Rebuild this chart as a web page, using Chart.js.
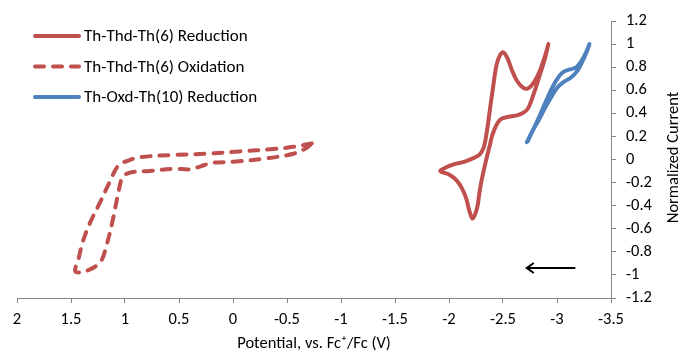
<!DOCTYPE html>
<html>
<head>
<meta charset="utf-8">
<script src="https://cdn.jsdelivr.net/npm/chart.js"></script>
<style>
  html, body { margin: 0; padding: 0; background: #fff; }
  #wrap { width: 681px; height: 352px; }
</style>
</head>
<body>
<div id="wrap"><canvas id="cv" width="681" height="352"></canvas></div>
<script>
// Th-Thd-Th(6) reduction CV (potential in V, normalized current)
const red6X = [-2.92, -2.89, -2.85, -2.80, -2.74, -2.69, -2.63, -2.58, -2.54, -2.50, -2.47, -2.44, -2.41, -2.38, -2.35, -2.32, -2.28, -2.22, -2.14, -2.05, -1.97, -1.92,
               -2.00, -2.07, -2.12, -2.16, -2.19, -2.22, -2.26, -2.28, -2.30, -2.33, -2.35, -2.38, -2.40, -2.44, -2.48, -2.55, -2.62, -2.68, -2.73, -2.77, -2.81, -2.85, -2.89, -2.92];
const red6Y = [1.00, 0.90, 0.79, 0.69, 0.62, 0.62, 0.68, 0.78, 0.88, 0.93, 0.90, 0.82, 0.64, 0.44, 0.24, 0.10, 0.04, 0.01, -0.02, -0.04, -0.07, -0.10,
               -0.13, -0.18, -0.25, -0.34, -0.45, -0.51, -0.42, -0.30, -0.19, -0.06, 0.02, 0.13, 0.21, 0.30, 0.35, 0.37, 0.38, 0.40, 0.44, 0.53, 0.64, 0.76, 0.88, 1.00];

// Th-Thd-Th(6) oxidation CV
const ox6X = [-0.73, -0.56, -0.37, -0.06, 0.24, 0.55, 0.86, 0.97, 1.06, 1.14, 1.23, 1.32, 1.39, 1.43, 1.46,
              1.37, 1.23, 1.17, 1.11, 1.06, 1.02, 0.94, 0.77, 0.55, 0.40, 0.30, 0.20, 0.0, -0.31, -0.56, -0.68, -0.73];
const ox6Y = [0.14, 0.11, 0.09, 0.07, 0.05, 0.04, 0.02, -0.01, -0.05, -0.19, -0.37, -0.54, -0.71, -0.86, -0.97,
              -0.97, -0.89, -0.74, -0.51, -0.28, -0.15, -0.11, -0.10, -0.08, -0.085, -0.06, -0.03, -0.02, 0.01, 0.05, 0.10, 0.14];

// Th-Oxd-Th(10) reduction CV
const red10X = [-2.72, -2.78, -2.84, -2.90, -2.96, -3.01, -3.06, -3.12, -3.18, -3.23, -3.27, -3.30,
                -3.27, -3.23, -3.19, -3.13, -3.06, -3.00, -2.94, -2.88, -2.83, -2.77, -2.73];
const red10Y = [0.15, 0.26, 0.38, 0.51, 0.63, 0.71, 0.76, 0.78, 0.80, 0.86, 0.93, 1.00,
                0.92, 0.84, 0.77, 0.71, 0.67, 0.62, 0.53, 0.43, 0.34, 0.24, 0.16];

// scan direction arrow (tail -> head)
const arrowX = [-3.17, -2.72];
const arrowY = [-0.94, -0.94];

const seriesNames = ['Th-Thd-Th(6) Reduction', 'Th-Thd-Th(6) Oxidation', 'Th-Oxd-Th(10) Reduction'];

const FONT = 'Carlito, Lato, sans-serif';
const toPts = (xs, ys) => xs.map((x, i) => ({ x: x, y: ys[i] }));
const fmt = (v) => String(Number(v.toFixed(1)));

// legend drawn inside the plot, top-left
const insideLegend = {
  id: 'insideLegend',
  afterDraw(chart) {
    const ctx = chart.ctx;
    const a = chart.chartArea;
    chart.data.datasets.forEach((ds, i) => {
      const y = a.top + 15 + i * 30.5;
      ctx.save();
      ctx.strokeStyle = ds.borderColor;
      ctx.lineWidth = ds.borderWidth;
      ctx.lineCap = 'round';
      ctx.setLineDash(ds.borderDash || []);
      ctx.beginPath();
      ctx.moveTo(a.left + 18, y);
      ctx.lineTo(a.left + 62, y);
      ctx.stroke();
      ctx.setLineDash([]);
      ctx.fillStyle = '#000';
      ctx.font = '17px ' + FONT;
      ctx.textBaseline = 'middle';
      ctx.fillText(ds.label, a.left + 67, y + 1);
      ctx.restore();
    });
  }
};

// arrow + rotated right-axis title
const extras = {
  id: 'extras',
  afterDatasetsDraw(chart) {
    const ctx = chart.ctx;
    const xs = chart.scales.x, ys = chart.scales.y;
    const x0 = xs.getPixelForValue(arrowX[0]), x1 = xs.getPixelForValue(arrowX[1]);
    const y0 = ys.getPixelForValue(arrowY[0]), y1 = ys.getPixelForValue(arrowY[1]);
    ctx.save();
    ctx.strokeStyle = '#000';
    ctx.lineWidth = 2;
    ctx.beginPath();
    ctx.moveTo(x0, y0);
    ctx.lineTo(x1, y1);
    ctx.stroke();
    ctx.beginPath();
    ctx.moveTo(x1 + 7, y1 - 5);
    ctx.lineTo(x1, y1);
    ctx.lineTo(x1 + 7, y1 + 5);
    ctx.stroke();
    ctx.restore();

    const a = chart.chartArea;
    ctx.save();
    ctx.translate(674, (a.top + a.bottom) / 2 - 2);
    ctx.rotate(-Math.PI / 2);
    ctx.fillStyle = '#000';
    ctx.font = '16.5px ' + FONT;
    ctx.textAlign = 'center';
    ctx.textBaseline = 'middle';
    ctx.fillText('Normalized Current', 0, 0);
    ctx.restore();
  }
};

const axisGray = '#868686';

new Chart(document.getElementById('cv'), {
  type: 'scatter',
  data: {
    datasets: [
      {
        label: seriesNames[0],
        data: toPts(red6X, red6Y),
        borderColor: '#C0504D',
        borderWidth: 4,
        tension: 0.35,
        borderCapStyle: 'round',
        borderJoinStyle: 'round',
      },
      {
        label: seriesNames[1],
        data: toPts(ox6X, ox6Y),
        borderColor: '#C0504D',
        borderWidth: 4,
        borderDash: [9, 9],
        tension: 0.35,
        borderCapStyle: 'round',
        borderJoinStyle: 'round',
      },
      {
        label: seriesNames[2],
        data: toPts(red10X, red10Y),
        borderColor: '#4F81BD',
        borderWidth: 4,
        tension: 0.35,
        borderCapStyle: 'round',
        borderJoinStyle: 'round',
      },
    ],
  },
  options: {
    responsive: false,
    devicePixelRatio: 1,
    animation: false,
    showLine: true,
    elements: { point: { radius: 0, hoverRadius: 0 } },
    layout: { padding: { left: 17, top: 21, right: 0, bottom: 0 } },
    plugins: {
      legend: { display: false },
      tooltip: { enabled: false },
    },
    scales: {
      x: {
        type: 'linear',
        min: -3.5,
        max: 2,
        reverse: true,
        position: 'bottom',
        afterFit: (s) => { s.height = 54; },
        ticks: {
          stepSize: 0.5,
          padding: 7,
          color: '#000',
          font: { family: FONT, size: 16.5 },
          maxRotation: 0,
          autoSkip: false,
          callback: fmt,
        },
        grid: { drawOnChartArea: false, drawTicks: true, tickLength: 5, color: axisGray },
        border: { color: axisGray, width: 1 },
        title: {
          display: true,
          text: 'Potential, vs. Fc\u207A/Fc (V)',
          color: '#000',
          font: { family: FONT, size: 16.5, lineHeight: 1 },
          padding: { top: 0, bottom: 0 },
        },
      },
      y: {
        type: 'linear',
        min: -1.2,
        max: 1.2,
        position: 'right',
        afterFit: (s) => { s.width = 70; },
        ticks: {
          stepSize: 0.2,
          padding: 10,
          color: '#000',
          font: { family: FONT, size: 16.5 },
          callback: fmt,
        },
        grid: { drawOnChartArea: false, drawTicks: true, tickLength: 5, color: axisGray },
        border: { color: axisGray, width: 1 },
      },
    },
  },
  plugins: [insideLegend, extras],
});
</script>
</body>
</html>
